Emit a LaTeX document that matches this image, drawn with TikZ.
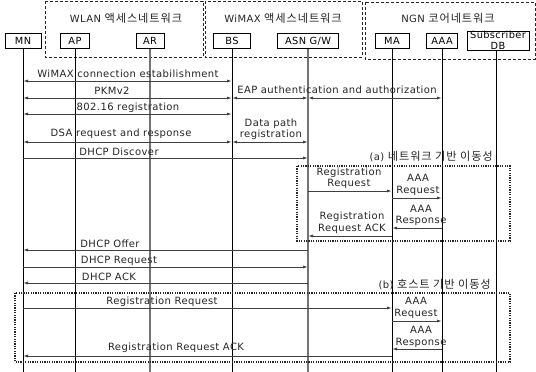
\documentclass[tikz,border=0pt]{standalone}
\usepackage{fontspec}
\setmainfont{DejaVu Sans}[LetterSpace=4]
\newfontfamily\kr{Noto Sans CJK KR}[Scale=1.12, LetterSpace=8]
\usetikzlibrary{arrows.meta}
\begin{document}
\begin{tikzpicture}[x=1pt,y=-1pt,
  lbl/.style={font=\fontsize{10}{11.5}\selectfont, inner sep=0pt, text=black!85, align=center},
  actor/.style={draw=black, line width=0.8pt, fill=white, font=\fontsize{9.8}{10}\selectfont, inner sep=1pt, minimum height=15pt, align=center},
  life/.style={line width=0.8pt, black},
  lifeg/.style={line width=1.3pt, black!55},
  msg/.style={line width=0.9pt, black!75},
  tip/.style={-{Latex[length=5pt,width=3pt]}},
  both/.style={{Latex[length=5pt,width=3pt]}-{Latex[length=5pt,width=3pt]}},
  dashbox/.style={line width=0.8pt, black!85, dash pattern=on 3pt off 2pt},
  dotbox/.style={line width=1.1pt, black!85, dash pattern=on 1.2pt off 1.2pt}]
\useasboundingbox[fill=white] (0,0) rectangle (536,372);

% access network groups
\draw[dashbox] (45,1) rectangle (203,57);
\draw[dashbox] (205,1) rectangle (362,57);
\draw[dashbox] (365,2) rectangle (535,59);
\node[lbl] (gWLAN) at (126,18) {WLAN {\kr 액세스네트워크}};
\node[lbl] (gWIMAX) at (283,18) {WiMAX {\kr 액세스네트워크}};
\node[lbl] (gNGN) at (448,18) {NGN {\kr 코어네트워크}};

% actors
\node[actor, minimum width=36pt] (MN) at (23,41) {MN};
\node[actor, minimum width=29pt] (AP) at (75,41) {AP};
\node[actor, minimum width=28pt] (AR) at (150,41) {AR};
\node[actor, minimum width=37pt] (BS) at (232,41) {BS};
\node[actor, minimum width=61pt] (ASN) at (308,41) {ASN G/W};
\node[actor, minimum width=34pt] (MA) at (392,41) {MA};
\node[actor, minimum width=31pt] (AAA) at (442,41) {AAA};
\node[actor, minimum width=62pt, font=\fontsize{9.8}{10.5}\selectfont, inner sep=0.5pt] (DB) at (498,40.5) {Subscriber\\DB};

% lifelines
\coordinate (bot) at (0,372);
\draw[life] (MN.south) -- (MN.south |- bot);
\draw[life] (AP.south) -- (AP.south |- bot);
\draw[lifeg] (AR.south) -- (AR.south |- bot);
\draw[life] (BS.south) -- (BS.south |- bot);
\draw[lifeg] (ASN.south) -- (ASN.south |- bot);
\draw[life] (MA.south) -- (MA.south |- bot);
\draw[life] (AAA.south) -- (AAA.south |- bot);
\draw[life] (DB.south -| 496,0) -- (496,372);

% messages
\draw[msg,both] (MN |- 0,81) -- (BS |- 0,81);
\node[lbl] (t1) at (128,74) {WiMAX connection estabilishment};

\draw[msg,both] (MN |- 0,98) -- (BS |- 0,98);
\node[lbl] (t2) at (112,91) {PKMv2};
\draw[msg,both] (BS |- 0,98) -- (ASN |- 0,98);
\draw[msg,both] (ASN |- 0,98) -- (AAA |- 0,98);
\node[lbl] (t3) at (337,90) {EAP authentication and authorization};

\draw[msg,both] (MN |- 0,114) -- (BS |- 0,114);
\node[lbl] (t4) at (128,108) {802.16 registration};

\draw[msg,both] (MN |- 0,142) -- (BS |- 0,142);
\node[lbl] (t5) at (121,134) {DSA request and response};
\draw[msg,both] (BS |- 0,142) -- (ASN |- 0,142);
\node[lbl] (t6) at (271,129) {Data path\\registration};

\draw[msg,tip] (MN |- 0,158) -- (ASN |- 0,158);
\node[lbl] (t7) at (119,152) {DHCP Discover};

% (a) network-based mobility
\node[lbl, anchor=east] (la) at (493,157) {(a) {\kr 네트워크 기반 이동성}};
\draw[dotbox] (297,166) rectangle (510,241);
\draw[msg,tip] (ASN |- 0,191) -- (MA |- 0,191);
\node[lbl] (t8) at (349,178) {Registration\\Request};
\draw[msg,tip] (MA |- 0,198) -- (AAA |- 0,198);
\node[lbl] (t9) at (418,185) {AAA\\Request};
\draw[msg,tip] (AAA |- 0,228) -- (MA |- 0,228);
\node[lbl] (t10) at (421,215.5) {AAA\\Response};
\draw[msg,tip] (MA |- 0,236) -- (ASN |- 0,236);
\node[lbl] (t11) at (352,222.5) {Registration\\Request ACK};

\draw[msg,tip] (ASN |- 0,250) -- (MN |- 0,250);
\node[lbl] (t12) at (110,244) {DHCP Offer};
\draw[msg,tip] (MN |- 0,267) -- (ASN |- 0,267);
\node[lbl] (t13) at (119,261) {DHCP Request};
\draw[msg,tip] (ASN |- 0,283) -- (MN |- 0,283);
\node[lbl] (t14) at (109,277) {DHCP ACK};

% (b) host-based mobility
\node[lbl, anchor=east] (lb) at (491,285) {(b) {\kr 호스트 기반 이동성}};
\draw[dotbox] (15,293) rectangle (510,362);
\draw[msg,tip] (MN |- 0,308) -- (MA |- 0,308);
\node[lbl] (t15) at (162,302) {Registration Request};
\draw[msg,tip] (MA |- 0,321) -- (AAA |- 0,321);
\node[lbl] (t16) at (416,308) {AAA\\Request};
\draw[msg,tip] (AAA |- 0,349) -- (MA |- 0,349);
\node[lbl] (t17) at (421,337) {AAA\\Response};
\draw[msg,tip] (MA |- 0,356) -- (MN |- 0,356);
\node[lbl] (t18) at (176,348) {Registration Request ACK};
\end{tikzpicture}
\end{document}
